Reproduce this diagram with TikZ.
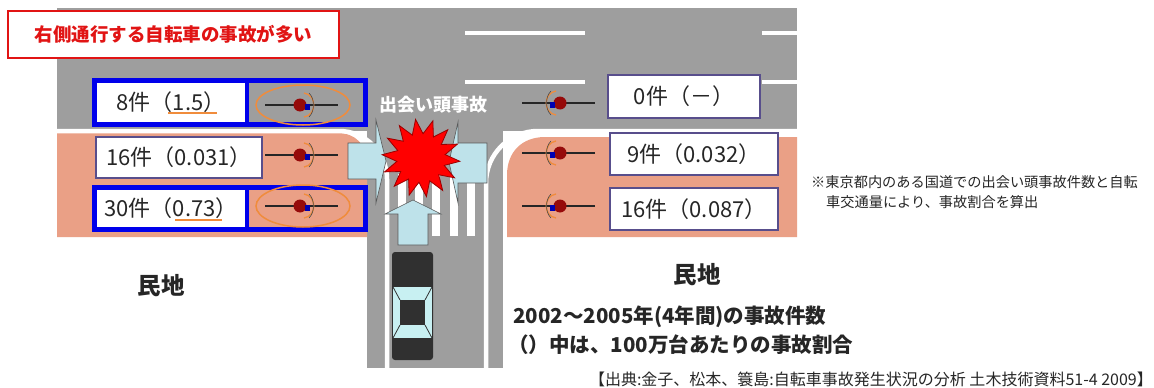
\documentclass[tikz,border=0pt]{standalone}
\usepackage{fontspec}
\setmainfont{Noto Sans CJK JP}
\usetikzlibrary{shapes.geometric}
\definecolor{road}{RGB}{158,158,158}
\definecolor{lot}{RGB}{234,160,134}
\definecolor{arrowblue}{RGB}{190,226,234}
\definecolor{frameblue}{RGB}{0,0,235}
\definecolor{boxline}{RGB}{88,78,140}
\definecolor{ring}{RGB}{240,140,60}
\definecolor{rider}{RGB}{150,10,10}
\definecolor{titlered}{RGB}{225,20,20}
\definecolor{glass}{RGB}{200,240,242}
\definecolor{carbody}{RGB}{48,48,48}
\tikzset{
  curb/.style={draw=white, line width=4.5pt},
  lane/.style={draw=white, line width=4pt},
  arrowshape/.style={fill=arrowblue, draw=black!65, line width=0.6pt, line join=miter},
  frame/.style={draw=frameblue, line width=5pt},
  divider/.style={draw=frameblue, line width=4pt},
  ringline/.style={draw=ring, line width=1.5pt},
  countbox/.style={fill=white, inner sep=0pt, font=\fontsize{22pt}{25pt}\selectfont, text=black!85},
  plainbox/.style={countbox, draw=boxline, line width=1.2pt},
  plot/.style={font=\bfseries\fontsize{23.5pt}{26pt}\selectfont, text=black!85},
  caption/.style={anchor=west, inner sep=0pt, font=\bfseries\fontsize{20.5pt}{23pt}\selectfont, text=black!85},
  note/.style={anchor=west, inner sep=0pt, font=\fontsize{14.2pt}{16pt}\selectfont, text=black!85},
  bike/.pic={
    \draw[line width=2.2pt, black!85] (-35,0) -- (38,0);
    \draw[ring, line width=1.3pt] (4,-12) .. controls (17,-10) and (17,10) .. (4,12);
    \draw[black!70, line width=0.6pt] (9,-12) .. controls (15,-6) and (15,6) .. (9,12);
    \fill[rider] (0,0) circle (6.5pt);
    \fill[blue!70!black] (5,-1) rectangle (10,5);
  }
}
\begin{document}
\begin{tikzpicture}[x=1pt,y=-1pt]
\useasboundingbox (0,0) rectangle (1154,388);
\fill[white] (0,0) rectangle (1154,388);

% road surface: main road and the side street
\fill[road] (57,8) rectangle (797,131);
\fill[road] (367,131) rectangle (503,368);

% private land on both corners
\fill[lot] (57,133) -- (338,133) .. controls (355,133) and (367,145) .. (367,162)
  -- (367,237) -- (57,237) -- cycle;
\fill[lot] (797,137) -- (545,137) .. controls (522,137) and (507,152) .. (507,175)
  -- (507,237) -- (797,237) -- cycle;

% kerb lines
\draw[curb, rounded corners=48pt] (57,131) -- (387,131) -- (387,368);
\draw[curb, rounded corners=52pt] (797,131) -- (486,131) -- (486,368);

% lane markings
\draw[lane] (465,33) -- (585,33);
\draw[lane] (762,33) -- (797,33);
\draw[lane] (465,82) -- (585,82);
\draw[lane] (762,82) -- (797,82);

% pedestrian crossing
\foreach \x in {398,415,432,450,467}
  \fill[white] (\x,174) rectangle ++(8,62);

% movement arrows
\draw[arrowshape] (348,143) -- (376,143) -- (376,120) -- (386,161) -- (376,203) -- (376,179) -- (348,179) -- cycle;
\draw[arrowshape] (487,143) -- (458,143) -- (458,122) -- (449,162) -- (458,203) -- (458,183) -- (487,183) -- cycle;
\draw[arrowshape] (398,245) -- (398,214) -- (385,214) -- (413,200) -- (441,214) -- (428,214) -- (428,245) -- cycle;

% collision burst
\node[star, star points=14, star point ratio=1.6, minimum size=78pt, inner sep=0pt,
      fill=red, draw=red!60!black, line width=0.8pt, rotate=8] (crash) at (421,158) {};
\node[text=white, font=\bfseries\fontsize{18pt}{20pt}\selectfont, inner sep=0pt] (crashlabel) at (433,105) {出会い頭事故};

% car on the side street
\fill[carbody, rounded corners=3pt] (392,252) rectangle (433,360);
\fill[glass] (393,287) rectangle (432,338);
\fill[carbody] (400,300) rectangle (425,325);
\draw[carbody, line width=0.8pt] (393,287) -- (400,300) (432,287) -- (425,300)
  (393,338) -- (400,325) (432,338) -- (425,325);

% title
\node[draw=titlered, line width=2pt, fill=white, minimum width=331pt, minimum height=47pt,
      text=titlered, font=\bfseries\fontsize{18.5pt}{21pt}\selectfont] (title) at (173.5,34.5) {右側通行する自転車の事故が多い};

% left side counts
\draw[frame] (94.5,80.5) rectangle (365.5,124.5);
\node[countbox, minimum width=148pt, minimum height=39pt] (l1) at (171,102.5) {8件（1.5）};
\draw[divider] (247,83) -- (247,122);
\draw[ringline] (303,105) ellipse (47pt and 20pt);
\pic at (300,105) {bike};
\draw[ring, line width=1.2pt] (168,113) -- (217,113);

\node[plainbox, minimum width=166pt, minimum height=41pt] (l2) at (179,157.5) {16件（0.031）};
\pic at (300,155) {bike};

\draw[frame] (94.5,187.5) rectangle (365.5,229.5);
\node[countbox, minimum width=148pt, minimum height=37pt] (l3) at (171,208.5) {30件（0.73）};
\draw[divider] (247,190) -- (247,227);
\draw[ringline] (303,206) ellipse (47pt and 21pt);
\pic at (300,206) {bike};
\draw[ring, line width=1.2pt] (175,220) -- (222,220);

% right side counts
\node[plainbox, minimum width=152pt, minimum height=43pt] (r1) at (684,96.5) {0件（－）};
\node[plainbox, minimum width=168pt, minimum height=42pt] (r2) at (694,154) {9件（0.032）};
\node[plainbox, minimum width=168pt, minimum height=42pt] (r3) at (694,209) {16件（0.087）};
\pic[xscale=-1] at (560,103) {bike};
\pic[xscale=-1] at (560,153) {bike};
\pic[xscale=-1] at (560,206) {bike};

% land labels and captions
\node[plot] (plotL) at (161,286) {民地};
\node[plot] (plotR) at (697,275) {民地};
\node[caption] (years) at (513,317) {2002～2005年(4年間)の事故件数};
\node[caption] (ratio) at (508,345) {（）中は、100万台あたりの事故割合};
\node[note] (note1) at (811,182) {※東京都内のある国道での出会い頭事故件数と自転};
\node[note] (note2) at (826,202) {車交通量により、事故割合を算出};
\node[anchor=east, inner sep=0pt, font=\fontsize{16pt}{18pt}\selectfont, text=black!85] (source) at (1153,379)
  {【出典:金子、松本、簑島:自転車事故発生状況の分析 土木技術資料51-4 2009】};
\end{tikzpicture}
\end{document}
